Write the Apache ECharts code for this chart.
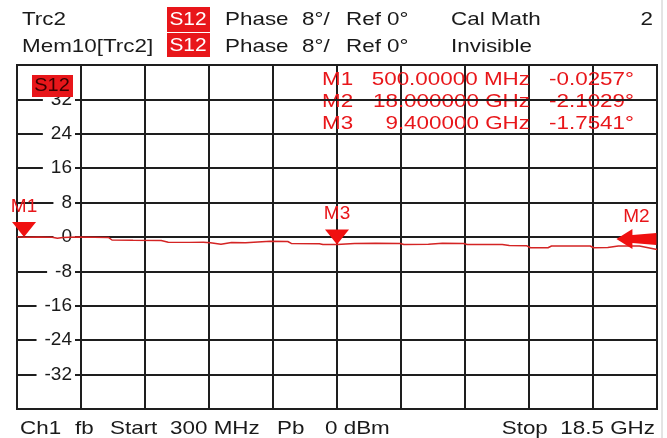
<!DOCTYPE html>
<html>
<head>
<meta charset="utf-8">
<script src="https://cdn.jsdelivr.net/npm/echarts@6/dist/echarts.min.js"></script>
<style>
  html, body { margin: 0; padding: 0; background: #fff; }
  #chart { width: 667px; height: 438px; }
</style>
</head>
<body>
<div id="chart"></div>
<script>
// trace: frequency (GHz) and phase (deg)
const freqGHz = [0.3, 0.5, 0.9, 1.3, 1.45, 1.6, 2.0, 2.5, 2.9, 3.0, 3.6, 4.4, 4.6, 5.2, 5.6, 5.8, 6.1, 6.4, 6.8, 6.85,
  7.5, 8.0, 8.1, 8.9, 9.0, 9.4, 9.9, 10.5, 11.2, 11.3, 12.0, 12.4, 13.0, 13.1, 14.1, 14.3, 14.8, 14.9, 15.4, 15.5,
  16.6, 16.7, 17.1, 17.4, 18.0, 18.5]
const phaseDeg = [0.05, -0.03, 0.0, -0.05, -0.3, -0.1, 0.0, -0.05, -0.1, -0.7, -0.75, -0.8, -1.2, -1.25, -1.2, -1.35, -1.7, -1.3, -1.35, -1.0,
  -1.0, -1.05, -1.5, -1.55, -1.75, -1.75, -1.5, -1.45, -1.5, -1.75, -1.7, -1.45, -1.5, -1.75, -1.75, -2.0, -2.05, -2.5, -2.5, -2.1,
  -2.1, -2.5, -2.45, -2.1, -2.1, -2.9]

const markerNames = ['M1', 'M2', 'M3']
const markerFreqGHz = [0.5, 18.0, 9.4]
const markerPhase = [-0.0257, -2.1029, -1.7541]
const markerFreqText = ['500.00000 MHz', '18.000000 GHz', '9.400000 GHz']

const yMin = -40, yMax = 40, yStep = 8

const RED = '#e8161a'
const FONT = 'Liberation Sans'

const triDown = 'path://M0,0 L24,0 L12,15 Z'
const arrowLeft = 'path://M0,10 L16,0 L16,6 L40,4 L40,16 L16,14 L16,20 Z'

const chart = echarts.init(document.getElementById('chart'))

function txt(x, y, s, o) {
  o = o || {}
  return {
    type: 'text', x: x, y: y, scaleX: o.sx || 1.18, z: o.z || 5,
    style: {
      text: s, fill: o.color || '#1a1a1a', fontFamily: FONT, fontSize: o.size || 19,
      align: o.align || 'left', verticalAlign: 'middle'
    }
  }
}

const graphics = [
  { type: 'line', shape: { x1: 662, y1: 0, x2: 662, y2: 438 }, style: { stroke: '#c8c8c8', lineWidth: 1 } },
  // header
  txt(22, 20, 'Trc2'),
  txt(22, 47, 'Mem10[Trc2]'),
  { type: 'rect', shape: { x: 167, y: 7, width: 43, height: 25 }, style: { fill: RED } },
  { type: 'rect', shape: { x: 167, y: 33, width: 43, height: 24 }, style: { fill: RED } },
  txt(188, 20, 'S12', { color: '#fff', align: 'center', sx: 1.1 }),
  txt(188, 46, 'S12', { color: '#fff', align: 'center', sx: 1.1 }),
  txt(225, 20, 'Phase'), txt(302, 20, '8°/'), txt(346, 20, 'Ref 0°'),
  txt(225, 47, 'Phase'), txt(302, 47, '8°/'), txt(346, 47, 'Ref 0°'),
  txt(451, 20, 'Cal Math'), txt(451, 47, 'Invisible'),
  txt(653, 20, '2', { align: 'right' }),
  // footer
  txt(20, 429, 'Ch1'), txt(75, 429, 'fb'), txt(110, 429, 'Start'),
  txt(170, 429, '300 MHz'), txt(277, 429, 'Pb'), txt(325, 429, '0 dBm'),
  txt(655, 429, 'Stop  18.5 GHz', { align: 'right' }),
  // trace label box
  { type: 'rect', z: 6, shape: { x: 32, y: 75, width: 41, height: 22 }, style: { fill: RED } },
  txt(52, 86, 'S12', { color: '#3a0000', align: 'center', sx: 1.05, z: 7 })
]

// marker readout table
markerNames.forEach((m, i) => {
  const y = 80 + i * 22
  graphics.push(txt(322, y, m, { color: RED, z: 1 }))
  graphics.push(txt(530, y, markerFreqText[i], { color: RED, align: 'right', z: 1 }))
  graphics.push(txt(634, y, markerPhase[i].toFixed(4) + '°', { color: RED, align: 'right', z: 1 }))
})

const markData = markerNames.map((m, i) => {
  const isArrow = m === 'M2'
  return {
    name: m,
    coord: [markerFreqGHz[i], markerPhase[i]],
    symbol: isArrow ? arrowLeft : triDown,
    symbolSize: isArrow ? [40, 20] : [24, 15],
    symbolOffset: isArrow ? [-3, -7] : [0, -7.5],
    label: {
      show: true, formatter: m, position: 'top', distance: isArrow ? 3 : 6,
      color: RED, fontFamily: FONT, fontSize: 19
    }
  }
})

const option = {
  backgroundColor: '#fff',
  animation: false,
  grid: { left: 17, right: 10, top: 65, bottom: 29, show: true, borderColor: '#1e1e1e', borderWidth: 2 },
  xAxis: [
    { type: 'value', min: 0.3, max: 18.5, show: false },
    {
      type: 'value', min: 0, max: 10, interval: 1, position: 'bottom',
      axisLine: { show: false }, axisTick: { show: false }, axisLabel: { show: false },
      splitLine: { show: true, lineStyle: { color: '#1e1e1e', width: 2 } }
    }
  ],
  yAxis: {
    type: 'value', min: yMin, max: yMax, interval: yStep, z: 3,
    axisLine: { show: false }, axisTick: { show: false },
    splitLine: { show: true, lineStyle: { color: '#1e1e1e', width: 2 } },
    axisLabel: {
      inside: true, align: 'right', margin: 58,
      fontFamily: FONT, fontSize: 19, color: '#1a1a1a',
      backgroundColor: '#fff', padding: [0, 3, 0, 8],
      formatter: v => (v === yMin || v === yMax) ? '' : String(v)
    }
  },
  graphic: graphics,
  series: [{
    type: 'line',
    xAxisIndex: 0,
    data: freqGHz.map((f, i) => [f, phaseDeg[i]]),
    showSymbol: false,
    lineStyle: { color: '#d42424', width: 1.5 },
    markPoint: { itemStyle: { color: '#f01010' }, data: markData }
  }]
}

chart.setOption(option)
</script>
</body>
</html>
